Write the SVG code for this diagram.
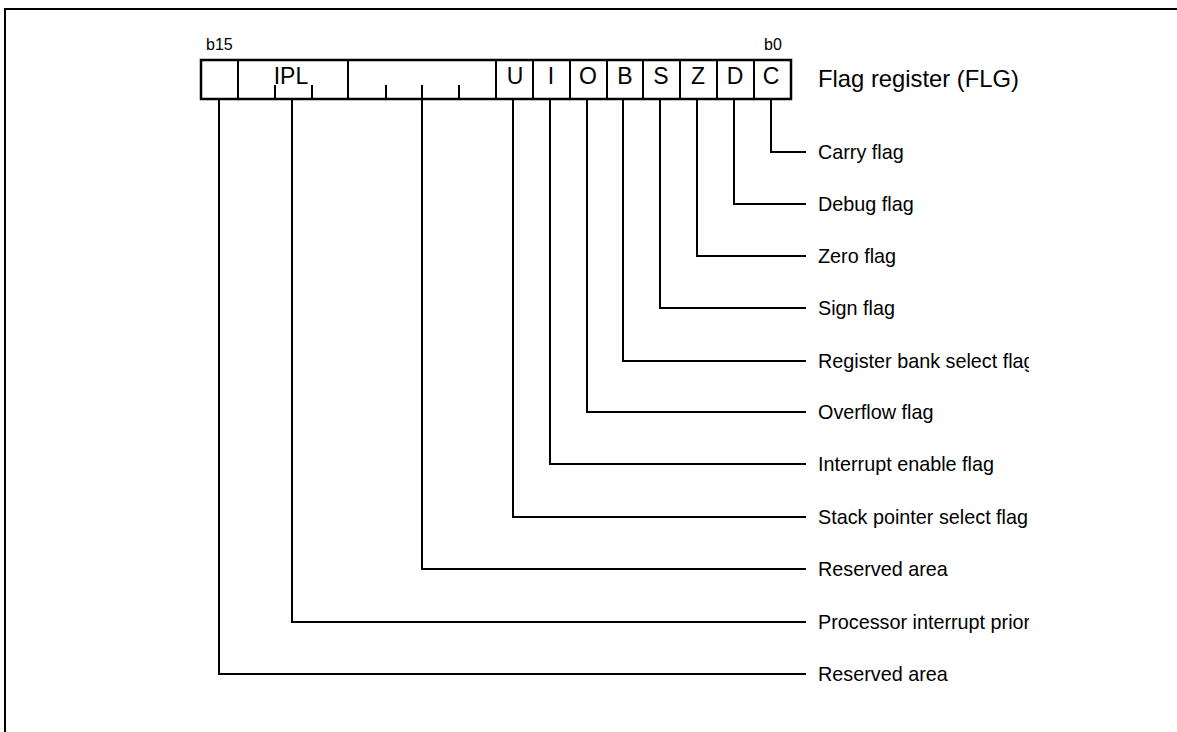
<svg xmlns="http://www.w3.org/2000/svg" width="1177" height="732" viewBox="0 0 1177 732">
<style>
.frame{fill:none;stroke:#000;stroke-width:2}
.cell{fill:#fff;stroke:#000;stroke-width:2.5}
.tick{stroke:#000;stroke-width:2}
.conn{fill:none;stroke:#000;stroke-width:2}
.bit{font-family:"Liberation Sans",Arial,sans-serif;font-size:23px;fill:#000;text-anchor:middle}
.lbl{font-family:"Liberation Sans",Arial,sans-serif;font-size:19.8px;fill:#000}
.title{font-family:"Liberation Sans",Arial,sans-serif;font-size:23.8px;fill:#000}
.small{font-family:"Liberation Sans",Arial,sans-serif;font-size:16px;fill:#000}
</style>
<defs>
<clipPath id="clip"><rect x="0" y="0" width="1029" height="732"/></clipPath>
</defs>
<rect width="1177" height="732" fill="#fff"/>
<path class="frame" d="M5,732 V9 H1177"/>
<g id="register">
<rect class="cell" x="201" y="60" width="590" height="39"/>
<g id="cell-b15"><line class="tick" x1="238" y1="60" x2="238" y2="99"/></g>
<g id="cell-IPL">
<line class="tick" x1="348" y1="60" x2="348" y2="99"/>
<line class="tick" x1="275" y1="85" x2="275" y2="99"/>
<line class="tick" x1="312" y1="85" x2="312" y2="99"/>
<text class="bit" x="291" y="84">IPL</text>
</g>
<g id="cell-reserved">
<line class="tick" x1="496" y1="60" x2="496" y2="99"/>
<line class="tick" x1="386" y1="85" x2="386" y2="99"/>
<line class="tick" x1="422" y1="85" x2="422" y2="99"/>
<line class="tick" x1="459" y1="85" x2="459" y2="99"/>
</g>
<g id="cell-U"><line class="tick" x1="533" y1="60" x2="533" y2="99"/><text class="bit" x="515" y="84">U</text></g>
<g id="cell-I"><line class="tick" x1="570" y1="60" x2="570" y2="99"/><text class="bit" x="551" y="84">I</text></g>
<g id="cell-O"><line class="tick" x1="607" y1="60" x2="607" y2="99"/><text class="bit" x="588" y="84">O</text></g>
<g id="cell-B"><line class="tick" x1="643" y1="60" x2="643" y2="99"/><text class="bit" x="625" y="84">B</text></g>
<g id="cell-S"><line class="tick" x1="680" y1="60" x2="680" y2="99"/><text class="bit" x="661" y="84">S</text></g>
<g id="cell-Z"><line class="tick" x1="717" y1="60" x2="717" y2="99"/><text class="bit" x="698" y="84">Z</text></g>
<g id="cell-D"><line class="tick" x1="754" y1="60" x2="754" y2="99"/><text class="bit" x="735" y="84">D</text></g>
<g id="cell-C"><text class="bit" x="771" y="84">C</text></g>
<text class="small" x="206" y="50">b15</text>
<text class="small" x="764" y="50">b0</text>
<text class="title" x="818" y="87">Flag register (FLG)</text>
</g>
<g id="connectors">
<path class="conn" d="M771,99 V152 H806"/>
<path class="conn" d="M734,99 V204 H806"/>
<path class="conn" d="M697,99 V256 H806"/>
<path class="conn" d="M660,99 V308 H806"/>
<path class="conn" d="M623,99 V361 H806"/>
<path class="conn" d="M587,99 V412 H806"/>
<path class="conn" d="M550,99 V464 H806"/>
<path class="conn" d="M513,99 V517 H806"/>
<path class="conn" d="M422,99 V569 H806"/>
<path class="conn" d="M292,99 V622 H806"/>
<path class="conn" d="M219,99 V674 H806"/>
</g>
<g id="labels" clip-path="url(#clip)">
<g id="label-carry"><text class="lbl" x="818" y="159">Carry flag</text></g>
<g id="label-debug"><text class="lbl" x="818" y="211">Debug flag</text></g>
<g id="label-zero"><text class="lbl" x="818" y="263">Zero flag</text></g>
<g id="label-sign"><text class="lbl" x="818" y="315">Sign flag</text></g>
<g id="label-bank"><text class="lbl" x="818" y="368">Register bank select flag</text></g>
<g id="label-overflow"><text class="lbl" x="818" y="419">Overflow flag</text></g>
<g id="label-interrupt"><text class="lbl" x="818" y="471">Interrupt enable flag</text></g>
<g id="label-stack"><text class="lbl" x="818" y="524">Stack pointer select flag</text></g>
<g id="label-reserved1"><text class="lbl" x="818" y="576">Reserved area</text></g>
<g id="label-ipl"><text class="lbl" x="818" y="629">Processor interrupt priority level</text></g>
<g id="label-reserved2"><text class="lbl" x="818" y="681">Reserved area</text></g>
</g>
</svg>
